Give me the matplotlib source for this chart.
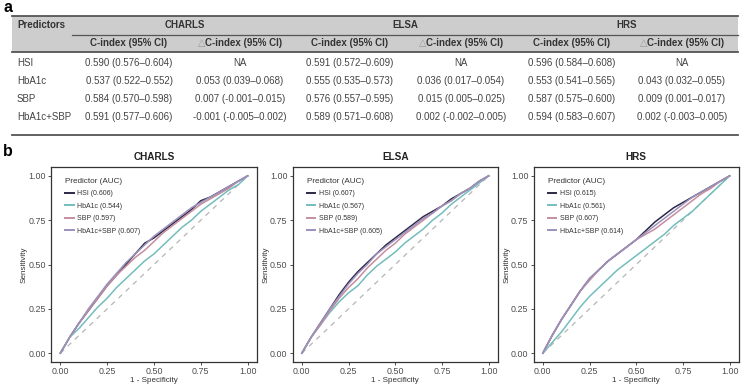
import matplotlib

matplotlib.use("Agg")
import matplotlib.pyplot as plt
from matplotlib.patches import Rectangle

plt.rcParams["font.family"] = ["Liberation Sans", "DejaVu Sans"]

W, H = 741, 385

# ---- table data (panel a) ----
cohorts = ["CHARLS", "ELSA", "HRS"]
predictors = ["HSI", "HbA1c", "SBP", "HbA1c+SBP"]
cindex = {
    "CHARLS": ["0.590 (0.576\u20130.604)", "0.537 (0.522\u20130.552)", "0.584 (0.570\u20130.598)", "0.591 (0.577\u20130.606)"],
    "ELSA": ["0.591 (0.572\u20130.609)", "0.555 (0.535\u20130.573)", "0.576 (0.557\u20130.595)", "0.589 (0.571\u20130.608)"],
    "HRS": ["0.596 (0.584\u20130.608)", "0.553 (0.541\u20130.565)", "0.587 (0.575\u20130.600)", "0.594 (0.583\u20130.607)"],
}
delta = {
    "CHARLS": ["NA", "0.053 (0.039\u20130.068)", "0.007 (-0.001\u20130.015)", "-0.001 (-0.005\u20130.002)"],
    "ELSA": ["NA", "0.036 (0.017\u20130.054)", "0.015 (0.005\u20130.025)", "0.002 (-0.002\u20130.005)"],
    "HRS": ["NA", "0.043 (0.032\u20130.055)", "0.009 (0.001\u20130.017)", "0.002 (-0.003\u20130.005)"],
}

# ---- ROC data (panel b) ----
fpr = [0, .05, .10, .15, .20, .25, .30, .35, .40, .45, .50,
       .55, .60, .65, .70, .75, .80, .85, .90, .95, 1]
tpr = {
    "CHARLS": {
        "HSI": [0, .09, .17, .24, .31, .38, .44, .50, .56, .62, .65, .69, .73, .77, .81, .86, .88, .91, .94, .97, 1],
        "HbA1c": [0, .09, .14, .20, .26, .31, .37, .42, .47, .52, .56, .61, .66, .71, .75, .80, .84, .88, .92, .95, 1],
        "SBP": [0, .09, .17, .24, .31, .38, .44, .49, .54, .58, .63, .68, .72, .76, .80, .84, .87, .90, .93, .97, 1],
        "HbA1c+SBP": [0, .09, .17, .25, .32, .39, .45, .51, .56, .61, .66, .70, .74, .78, .82, .85, .88, .91, .94, .97, 1],
    },
    "ELSA": {
        "HSI": [0, .09, .17, .25, .33, .40, .46, .51, .56, .61, .65, .69, .73, .77, .80, .83, .87, .90, .93, .97, 1],
        "HbA1c": [0, .09, .16, .23, .29, .34, .38, .44, .49, .53, .57, .62, .66, .70, .75, .79, .84, .88, .92, .96, 1],
        "SBP": [0, .09, .16, .24, .31, .37, .42, .48, .53, .58, .62, .67, .71, .75, .79, .83, .86, .90, .93, .97, 1],
        "HbA1c+SBP": [0, .09, .17, .25, .32, .39, .45, .50, .56, .60, .64, .68, .72, .76, .79, .83, .86, .90, .93, .97, 1],
    },
    "HRS": {
        "HSI": [0, .10, .19, .27, .35, .42, .47, .52, .56, .60, .64, .69, .74, .78, .82, .85, .88, .91, .94, .97, 1],
        "HbA1c": [0, .06, .12, .19, .26, .32, .37, .42, .47, .51, .55, .59, .63, .67, .72, .76, .80, .85, .90, .95, 1],
        "SBP": [0, .10, .19, .27, .35, .41, .47, .52, .56, .60, .64, .67, .70, .74, .78, .82, .86, .90, .93, .97, 1],
        "HbA1c+SBP": [0, .10, .19, .27, .35, .42, .47, .52, .56, .60, .64, .68, .72, .76, .80, .84, .88, .91, .94, .97, 1],
    },
}
auc = {
    "CHARLS": [0.606, 0.544, 0.597, 0.607],
    "ELSA": [0.607, 0.567, 0.589, 0.605],
    "HRS": [0.615, 0.561, 0.607, 0.614],
}
colors = ["#2b2946", "#74bdbd", "#c58e9e", "#9c90bd"]

fig = plt.figure(figsize=(W / 100, H / 100), dpi=100)
fig.patch.set_facecolor("white")

# overlay axes in pixel coordinates for the table and panel letters
bg = fig.add_axes([0, 0, 1, 1])
bg.set_xlim(0, W)
bg.set_ylim(H, 0)
bg.axis("off")

txt = "#333333"
bg.text(3, 8, "a", fontsize=11.5, fontweight="bold", ha="left", va="center", color="black")
bg.text(3, 152, "b", fontsize=11.5, fontweight="bold", ha="left", va="center", color="black")

tl, tr = 12, 738
bg.add_patch(Rectangle((tl, 16), tr - tl, 36, facecolor="#cdcdcd", edgecolor="none"))
bg.plot([tl, tr], [16, 16], color="#555555", lw=1.3)
bg.plot([72, tr], [34.5, 34.5], color="#555555", lw=0.9)
bg.plot([tl, tr], [52, 52], color="#555555", lw=1.3)
bg.plot([tl, tr], [135, 135], color="#555555", lw=1.3)

fs = 7.0
bg.text(17, 25, "Predictors", fontsize=fs, fontweight="bold", ha="left", va="center", color=txt)
group_x = [185, 405, 627]
col_x = [(129, 240), (350, 461), (572, 682)]
row_y = [63, 81, 99, 117]
for c, gx, (cx, dx) in zip(cohorts, group_x, col_x):
    bg.text(gx, 25, c, fontsize=fs, fontweight="bold", ha="center", va="center", color=txt)
    bg.text(cx, 43, "C-index (95% CI)", fontsize=fs, fontweight="bold", ha="center", va="center", color=txt)
    t = bg.text(dx + 4, 43, "C-index (95% CI)", fontsize=fs, fontweight="bold", ha="center", va="center", color=txt)
    bg.annotate("\u25b3", xy=(0, 0.5), xycoords=t, fontsize=fs, ha="right", va="center",
                color="#9a9a9a", family=["DejaVu Sans"])
    for y, a, d in zip(row_y, cindex[c], delta[c]):
        bg.text(cx, y, a, fontsize=fs, ha="center", va="center", color="#444444")
        bg.text(dx, y, d, fontsize=fs, ha="center", va="center", color="#444444")
for y, p in zip(row_y, predictors):
    bg.text(17, y, p, fontsize=fs, ha="left", va="center", color="#444444")


def box(l, r, t, b):
    return [l / W, 1 - b / H, (r - l) / W, (b - t) / H]


ax_px = [(51, 257), (292.5, 498), (533.5, 739)]
for c, (l, r) in zip(cohorts, ax_px):
    ax = fig.add_axes(box(l, r, 167, 362))
    ax.plot([0, 1], [0, 1], color="#b5b5b5", lw=0.9, linestyle=(0, (4, 4)), zorder=1)
    for p, col, a in zip(predictors, colors, auc[c]):
        ax.plot(fpr, tpr[c][p], color=col, lw=1.1, label=f"{p} ({a:.3f})", zorder=2)
    ax.set_xlim(-0.05, 1.05)
    ax.set_ylim(-0.05, 1.05)
    ticks = [0, 0.25, 0.5, 0.75, 1.0]
    ax.set_xticks(ticks)
    ax.set_yticks(ticks)
    ax.set_xticklabels([f"{v:.2f}" for v in ticks])
    ax.set_yticklabels([f"{v:.2f}" for v in ticks])
    ax.tick_params(labelsize=6.4, colors="#333333", length=2.5, width=0.6, pad=1.2)
    for lab in ax.get_xticklabels() + ax.get_yticklabels():
        lab.set_color("#4d4d4d")
    for s in ax.spines.values():
        s.set_color("#333333")
        s.set_linewidth(0.9)
    ax.set_title(c, fontsize=7.2, fontweight="bold", color="#222222", pad=5)
    ax.set_xlabel("1 - Specificity", fontsize=5.8, color="#333333", labelpad=0.3)
    ax.set_ylabel("Sensitivity", fontsize=5.9, color="#333333", labelpad=0.5)
    leg = ax.legend(loc="upper left", bbox_to_anchor=(0.05, 0.965), frameon=False,
                    title="Predictor (AUC)", fontsize=5.0, title_fontsize=5.9,
                    handlelength=1.2, handletextpad=0.5, labelspacing=0.78,
                    alignment="left", borderaxespad=0.2)
    leg.get_title().set_color("#333333")
    for t in leg.get_texts():
        t.set_color("#333333")
    for h in leg.legend_handles:
        h.set_linewidth(1.4)

fig.savefig("out.png", dpi=100, facecolor="white")
